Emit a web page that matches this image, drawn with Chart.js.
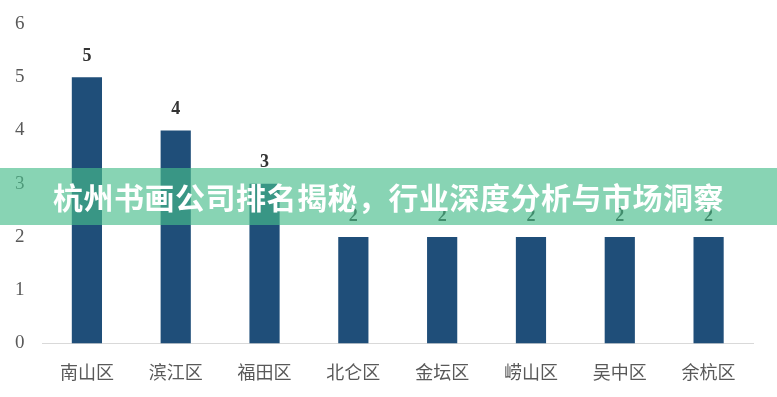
<!DOCTYPE html>
<html>
<head>
<meta charset="utf-8">
<script src="https://cdn.jsdelivr.net/npm/chart.js@4/dist/chart.umd.min.js"></script>
<style>
body{margin:0;background:#fff;}
#wrap{position:relative;width:777px;height:397px;}
#banner{position:absolute;left:0;top:168px;width:777px;height:57px;background:rgba(72,189,140,0.65);
color:#fff;font:bold 30px "Noto Sans CJK SC",sans-serif;text-align:center;line-height:57px;letter-spacing:0.5px;}
</style>
</head>
<body>
<div id="wrap">
<canvas id="chart" width="777" height="397"></canvas>
<div id="banner">杭州书画公司排名揭秘，行业深度分析与市场洞察</div>
</div>
<script>
var districts=["南山区","滨江区","福田区","北仑区","金坛区","崂山区","吴中区","余杭区"]
var counts=[5,4,3,2,2,2,2,2]
var yTicks=[0,1,2,3,4,5,6]

// numbers above the bars
var barLabels={
    id:'barLabels',
    afterDatasetsDraw(chart){
        var ctx=chart.ctx
        var meta=chart.getDatasetMeta(0)
        ctx.save()
        ctx.font='bold 18px "Liberation Serif", serif'
        ctx.fillStyle='#333333'
        ctx.textAlign='center'
        ctx.textBaseline='bottom'
        meta.data.forEach((bar,i)=>{
            ctx.fillText(counts[i],bar.x,bar.y-12)
        })
        ctx.restore()
    }
}

var ctx=document.getElementById('chart').getContext('2d')
var myChart=new Chart(ctx,{
    type:'bar',
    data:{
        labels:districts,
        datasets:[{
            data:counts,
            backgroundColor:'#1f4e79',
            barPercentage:0.68,
            categoryPercentage:0.5
        }]
    },
    options:{
        responsive:false,
        animation:false,
        layout:{padding:{left:5,right:24,top:24,bottom:4}},
        plugins:{legend:{display:false},tooltip:{enabled:false}},
        scales:{
            y:{
                min:0,max:6,
                afterBuildTicks(axis){axis.ticks=yTicks.map(v=>({value:v}))},
                grid:{display:false},
                border:{display:false},
                ticks:{color:'#595959',font:{family:'"Liberation Serif", serif',size:19},padding:10}
            },
            x:{
                grid:{display:false},
                border:{color:'#d9d9d9',width:1},
                ticks:{color:'#595959',font:{family:'"Noto Sans CJK SC", serif',size:18},padding:10}
            }
        }
    },
    plugins:[barLabels]
})
</script>
</body>
</html>
